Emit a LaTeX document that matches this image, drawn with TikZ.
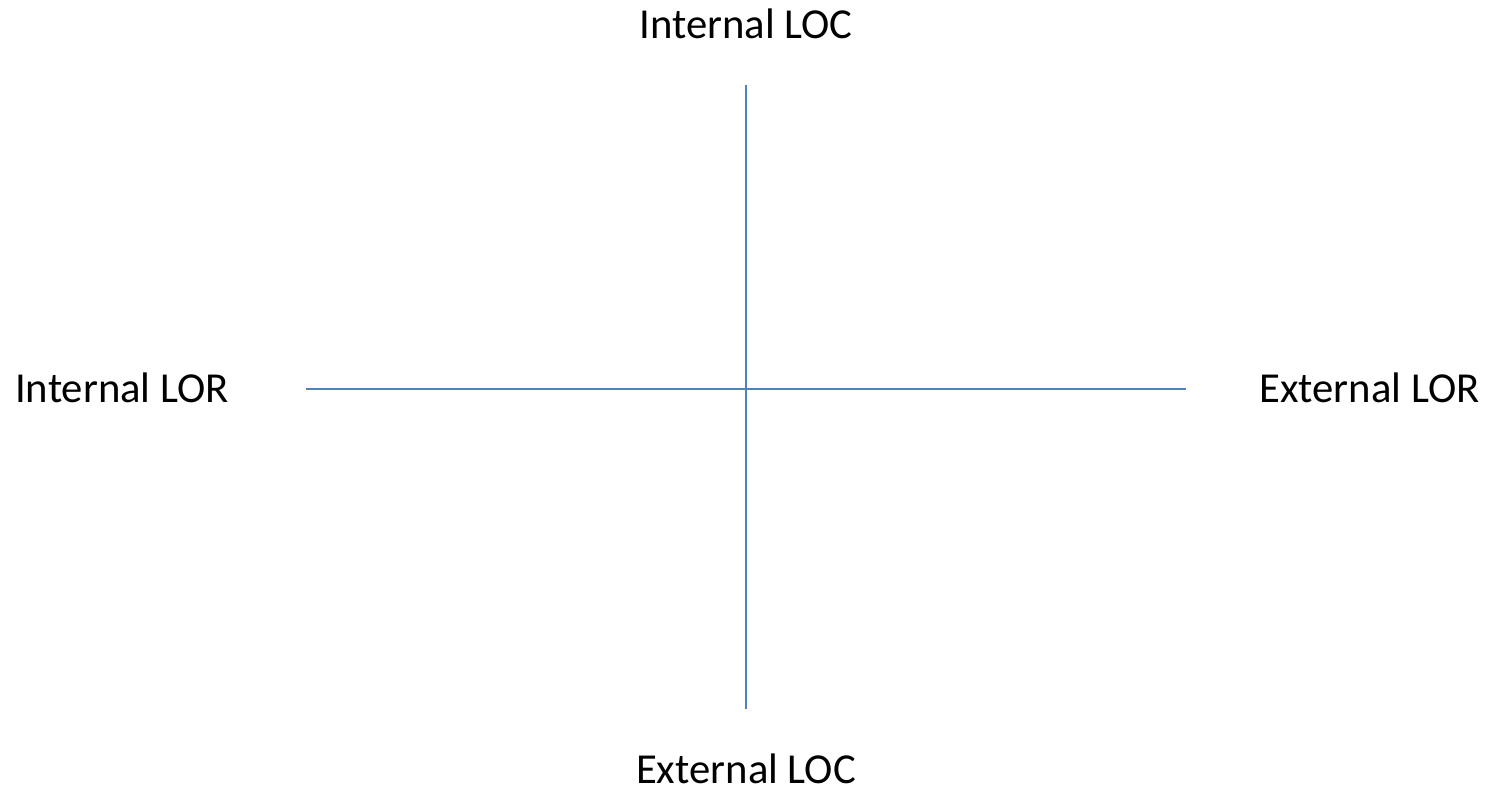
\documentclass[tikz,border=0pt]{standalone}
\usepackage{fontspec}
\setmainfont{Carlito}
\definecolor{axisblue}{HTML}{4F81BD}
\begin{document}
\begin{tikzpicture}[x=1pt,y=-1pt,
  lbl/.style={anchor=base,inner sep=0pt,font=\fontsize{42.7}{51}\selectfont},
  axis/.style={draw=axisblue,line width=2pt}]
\useasboundingbox (0,0) rectangle (1492,790);
\coordinate (top) at (746,85);
\coordinate (bot) at (746,709);
\coordinate (left) at (306,389);
\coordinate (right) at (1186,389);
\draw[axis] (top) -- (bot);
\draw[axis] (left) -- (right);
\node[lbl] (iloc) at (746,38) {Internal LOC};
\node[lbl] (eloc) at (746,783) {External LOC};
\node[lbl] (ilor) at (122,402) {Internal LOR};
\node[lbl] (elor) at (1369.5,402) {External LOR};
\end{tikzpicture}
\end{document}
